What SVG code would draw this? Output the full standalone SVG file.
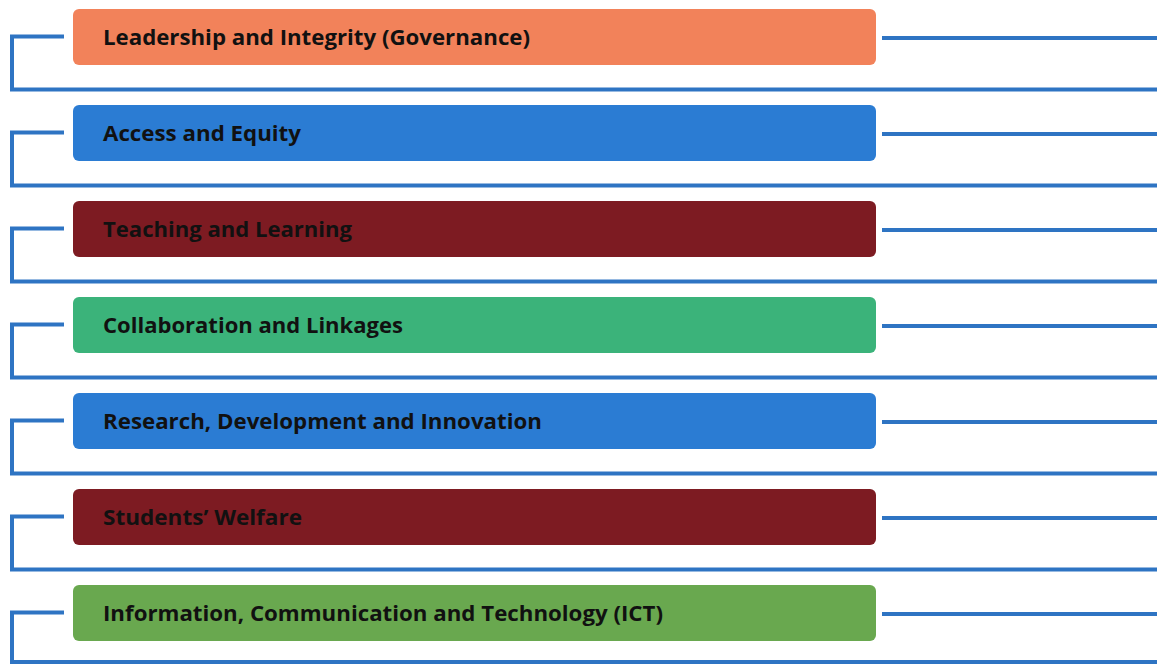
<svg xmlns="http://www.w3.org/2000/svg" width="1157" height="665" viewBox="0 0 1157 665">
<style>
.box{stroke:none}
.lbl{font-family:"Open Sans","Liberation Sans",sans-serif;font-weight:700;font-size:21px;fill:#111}
.conn{fill:none;stroke:#2E74C3;stroke-width:4;stroke-linejoin:miter}
</style>
<rect width="1157" height="665" fill="#ffffff"/>
<g id="connectors">
<path class="conn" d="M64 36.5H12V89.5H1157"/>
<path class="conn" d="M882 38H1157"/>
<path class="conn" d="M64 132.5H12V185.5H1157"/>
<path class="conn" d="M882 134H1157"/>
<path class="conn" d="M64 228.5H12V281.5H1157"/>
<path class="conn" d="M882 230H1157"/>
<path class="conn" d="M64 324.5H12V377.5H1157"/>
<path class="conn" d="M882 326H1157"/>
<path class="conn" d="M64 420.5H12V473.5H1157"/>
<path class="conn" d="M882 422H1157"/>
<path class="conn" d="M64 516.5H12V569.5H1157"/>
<path class="conn" d="M882 518H1157"/>
<path class="conn" d="M64 612.5H12V662H1157"/>
<path class="conn" d="M882 614H1157"/>
</g>
<g id="n1"><rect class="box" x="73" y="9" width="803" height="56" rx="6" fill="#F2825A"/><text class="lbl" x="103" y="45" textLength="427" lengthAdjust="spacingAndGlyphs">Leadership and Integrity (Governance)</text></g>
<g id="n2"><rect class="box" x="73" y="105" width="803" height="56" rx="6" fill="#2B7CD3"/><text class="lbl" x="103" y="141" textLength="198" lengthAdjust="spacingAndGlyphs">Access and Equity</text></g>
<g id="n3"><rect class="box" x="73" y="201" width="803" height="56" rx="6" fill="#7D1B22"/><text class="lbl" x="103" y="237" textLength="249" lengthAdjust="spacingAndGlyphs">Teaching and Learning</text></g>
<g id="n4"><rect class="box" x="73" y="297" width="803" height="56" rx="6" fill="#3BB37A"/><text class="lbl" x="103" y="333" textLength="300" lengthAdjust="spacingAndGlyphs">Collaboration and Linkages</text></g>
<g id="n5"><rect class="box" x="73" y="393" width="803" height="56" rx="6" fill="#2B7CD3"/><text class="lbl" x="103" y="429" textLength="439" lengthAdjust="spacingAndGlyphs">Research, Development and Innovation</text></g>
<g id="n6"><rect class="box" x="73" y="489" width="803" height="56" rx="6" fill="#7D1B22"/><text class="lbl" x="103" y="525" textLength="199" lengthAdjust="spacingAndGlyphs">Students’ Welfare</text></g>
<g id="n7"><rect class="box" x="73" y="585" width="803" height="56" rx="6" fill="#69A84F"/><text class="lbl" x="103" y="621" textLength="560" lengthAdjust="spacingAndGlyphs">Information, Communication and Technology (ICT)</text></g>
</svg>
